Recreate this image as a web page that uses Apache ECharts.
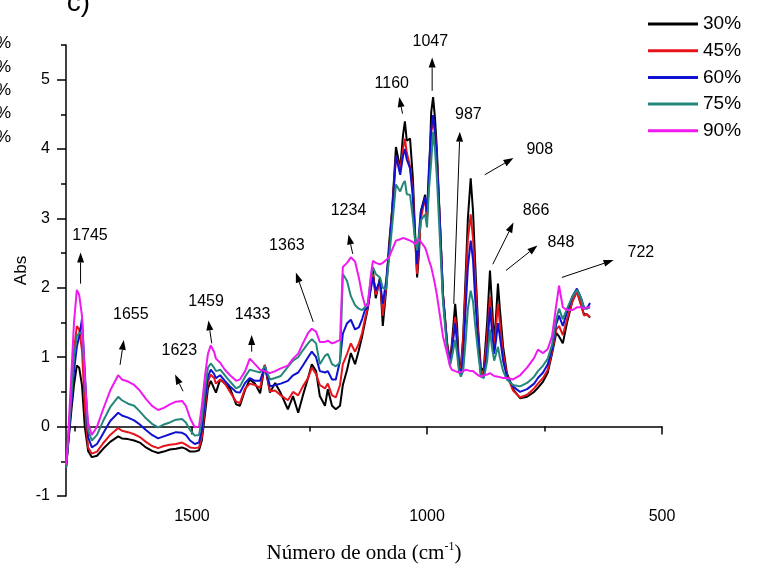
<!DOCTYPE html>
<html>
<head>
<meta charset="utf-8">
<script src="https://cdn.jsdelivr.net/npm/echarts@6/dist/echarts.min.js"></script>
<style>
  html, body { margin: 0; padding: 0; background: #fff; }
  #chart { width: 762px; height: 569px; }
</style>
</head>
<body>
<div id="chart"></div>
<script>
// FTIR absorbance spectra for five concentrations
const wavenumber = [
  1768, 1764, 1757, 1751, 1745, 1740, 1734, 1728, 1721, 1713,
  1702, 1689, 1674, 1657, 1649, 1636, 1623, 1611, 1598, 1585,
  1572, 1560, 1547, 1534, 1521, 1513, 1504, 1494, 1485, 1479,
  1472, 1466, 1460, 1453, 1449, 1440, 1430, 1419, 1406, 1398,
  1387, 1377, 1366, 1355, 1345, 1334, 1323, 1311, 1296, 1285,
  1274, 1264, 1253, 1245, 1236, 1228, 1217, 1211, 1202, 1194,
  1185, 1179, 1170, 1162, 1153, 1145, 1138, 1132, 1126, 1119,
  1115, 1109, 1100, 1094, 1087, 1081, 1074, 1066, 1057, 1051,
  1047, 1043, 1036, 1030, 1026, 1021, 1017, 1013, 1004, 1000,
  996, 991, 987, 983, 979, 972, 966, 957, 951, 947,
  940, 936, 932, 928, 923, 917, 913, 907, 902, 898,
  891, 885, 879, 872, 866, 862, 857, 853, 849, 845,
  838, 830, 817, 802, 787, 772, 764, 753, 743, 734,
  725, 719, 711, 702, 691, 681, 672, 666, 660, 653
];

const abs30 = [
  -0.6, -0.3, 0.2, 0.6, 0.88, 0.85, 0.6, 0.0, -0.35, -0.44,
  -0.42, -0.32, -0.22, -0.14, -0.17, -0.18, -0.2, -0.23, -0.3, -0.35,
  -0.38, -0.36, -0.33, -0.32, -0.3, -0.32, -0.36, -0.36, -0.34, -0.2,
  0.2, 0.55, 0.66, 0.55, 0.49, 0.68, 0.62, 0.55, 0.32, 0.3,
  0.53, 0.68, 0.62, 0.48, 0.89, 0.49, 0.63, 0.48, 0.25, 0.44,
  0.2, 0.45, 0.7, 0.9, 0.8, 0.44, 0.3, 0.54, 0.3, 0.25,
  0.3, 0.6, 0.82, 1.06, 0.9, 1.1, 1.3, 1.5, 1.7, 2.05,
  2.25, 1.85, 2.15, 1.45, 1.96, 2.6, 3.15, 4.03, 3.72, 4.2,
  4.4, 4.12, 4.15, 3.58, 2.9, 2.15, 2.5, 3.1, 3.34, 3.0,
  3.5, 4.53, 4.75, 4.45, 4.0, 2.87, 1.91, 1.2, 0.95, 1.2,
  1.77, 1.45, 0.92, 0.85, 1.3, 2.3, 3.0, 3.58, 3.1, 2.44,
  1.4, 0.8, 0.85, 1.5, 2.25, 1.8, 1.2, 1.6, 2.06, 1.7,
  1.15, 0.77, 0.54, 0.41, 0.43, 0.5, 0.56, 0.65, 0.78, 1.05,
  1.35, 1.3, 1.2, 1.5, 1.8, 1.96, 1.75, 1.62, 1.62, 1.57
];

const abs45 = [
  -0.6, -0.28, 0.4, 1.1, 1.45, 1.4, 1.1, 0.3, -0.3, -0.39,
  -0.36, -0.24, -0.12, -0.02, -0.06, -0.08, -0.11, -0.15, -0.22, -0.28,
  -0.31, -0.28, -0.26, -0.25, -0.23, -0.26, -0.3, -0.31, -0.3, -0.15,
  0.3, 0.65, 0.75, 0.7, 0.62, 0.68, 0.62, 0.5, 0.36, 0.34,
  0.55, 0.62, 0.6, 0.56, 0.89, 0.51, 0.52, 0.45, 0.38, 0.5,
  0.45, 0.58, 0.7, 0.85, 0.76, 0.6, 0.55, 0.62, 0.45, 0.42,
  0.6, 0.9, 1.05, 1.2, 1.08, 1.2, 1.35, 1.55, 1.72, 2.05,
  2.2, 1.9, 2.1, 1.6, 2.0, 2.5, 3.1, 3.9, 3.7, 4.0,
  4.15, 3.95, 3.75, 3.4, 2.8, 2.2, 2.6, 3.0, 3.3, 3.0,
  3.6, 4.25, 4.4, 4.25, 3.9, 2.85, 1.9, 1.18, 0.92, 1.15,
  1.58, 1.3, 0.88, 0.8, 1.25, 2.1, 2.7, 3.06, 2.7, 2.2,
  1.3, 0.75, 0.8, 1.3, 1.87, 1.55, 1.1, 1.45, 1.77, 1.5,
  1.05, 0.75, 0.52, 0.42, 0.46, 0.55, 0.62, 0.7, 0.82, 1.08,
  1.4, 1.45, 1.32, 1.55, 1.8, 1.94, 1.75, 1.6, 1.62, 1.58
];

const abs60 = [
  -0.6, -0.28, 0.3, 0.8, 1.15, 1.3, 1.55, 0.8, -0.15, -0.3,
  -0.25, -0.1, 0.08, 0.2, 0.16, 0.13, 0.09, 0.03, -0.05, -0.12,
  -0.17, -0.14, -0.11, -0.08, -0.09, -0.12, -0.2, -0.25, -0.23, -0.05,
  0.4, 0.72, 0.82, 0.76, 0.7, 0.74, 0.66, 0.58, 0.5, 0.49,
  0.63, 0.7, 0.66, 0.66, 0.87, 0.58, 0.6, 0.62, 0.66, 0.74,
  0.78, 0.88, 1.0, 1.08, 1.0, 0.8, 0.78, 0.8, 0.68, 0.68,
  0.95, 1.34, 1.49, 1.54, 1.4, 1.43, 1.55, 1.68, 1.72, 2.0,
  2.15, 1.96, 2.1, 1.77, 2.1, 2.5, 3.1, 3.9, 3.63, 3.9,
  4.0, 3.85, 3.72, 3.3, 2.8, 2.34, 2.8, 3.1, 3.3, 3.1,
  3.7, 4.29, 4.49, 4.25, 3.85, 2.87, 1.9, 1.15, 0.9, 1.1,
  1.49, 1.2, 0.85, 0.75, 1.0, 1.8, 2.3, 2.68, 2.4, 1.9,
  1.2, 0.72, 0.75, 1.1, 1.72, 1.4, 1.05, 1.25, 1.49, 1.3,
  0.95, 0.72, 0.58, 0.5, 0.54, 0.62, 0.7, 0.78, 0.9, 1.12,
  1.48, 1.6, 1.45, 1.65, 1.87, 1.99, 1.85, 1.72, 1.7, 1.78
];

const abs75 = [
  -0.6, -0.25, 0.4, 1.0, 1.3, 1.35, 1.35, 0.7, -0.05, -0.2,
  -0.12, 0.08, 0.28, 0.43, 0.38, 0.33, 0.3, 0.22, 0.12, 0.04,
  -0.01, 0.03, 0.06, 0.1, 0.11, 0.06, -0.05, -0.13, -0.12, 0.1,
  0.55, 0.85, 0.91, 0.85, 0.8, 0.82, 0.74, 0.65, 0.55, 0.58,
  0.72, 0.82, 0.8, 0.78, 0.87, 0.68, 0.7, 0.73, 0.86, 0.95,
  1.0, 1.1, 1.2, 1.26, 1.2, 0.9, 1.02, 1.05, 0.9, 0.87,
  0.92, 2.2, 2.1, 1.88, 1.75, 1.7, 1.68, 1.72, 1.78, 2.15,
  2.3, 2.2, 2.15, 2.0, 1.98, 2.4, 2.9, 3.49, 3.39, 3.5,
  3.54, 3.35, 3.34, 3.0, 2.72, 2.54, 2.75, 2.97, 3.06, 2.87,
  3.4, 3.82, 4.25, 4.0, 3.6, 2.63, 1.8, 1.1, 0.88, 1.0,
  1.25, 1.05, 0.8, 0.72, 0.8, 1.3, 1.7, 1.96, 1.8, 1.5,
  1.05, 0.72, 0.7, 0.95, 1.4, 1.15, 0.95, 1.05, 1.15, 1.0,
  0.8, 0.68, 0.6, 0.58, 0.63, 0.72, 0.8, 0.88, 0.98, 1.18,
  1.55, 1.7, 1.55, 1.7, 1.87, 1.97, 1.85, 1.7, 1.7, 1.72
];

const abs90 = [
  -0.55, -0.2, 0.7, 1.5, 1.97, 1.9, 1.6, 0.7, 0.05, -0.12,
  0.0, 0.25, 0.52, 0.74, 0.68, 0.65, 0.6, 0.52, 0.4, 0.3,
  0.24, 0.27, 0.32, 0.36, 0.37, 0.3, 0.12, -0.01, 0.0, 0.3,
  0.75, 1.05, 1.17, 1.08, 0.98, 0.92, 0.82, 0.74, 0.66, 0.68,
  0.8, 0.98, 0.9, 0.82, 0.8, 0.77, 0.8, 0.84, 0.88, 0.98,
  1.05, 1.2, 1.35, 1.41, 1.37, 1.22, 1.22, 1.24, 1.2, 1.22,
  1.25, 2.3, 2.36, 2.44, 2.38, 2.15, 1.9, 1.75, 1.74, 2.2,
  2.39, 2.36, 2.34, 2.36, 2.4, 2.44, 2.55, 2.68, 2.7, 2.72,
  2.73, 2.7, 2.68, 2.66, 2.63, 2.66, 2.7, 2.72, 2.58, 2.5,
  2.4, 2.3, 2.18, 2.05, 1.9, 1.58, 1.3, 1.05, 0.87, 0.82,
  0.8, 0.78, 0.78, 0.77, 0.8, 0.82, 0.8, 0.8, 0.8, 0.78,
  0.74, 0.72, 0.74, 0.75, 0.77, 0.75, 0.73, 0.72, 0.72, 0.72,
  0.7, 0.7, 0.68, 0.74, 0.85, 0.99, 1.11, 1.06, 1.12, 1.3,
  1.75, 2.03, 1.72, 1.68, 1.68, 1.72, 1.72, 1.7, 1.72, 1.72
];

const seriesNames = ['30%', '45%', '60%', '75%', '90%'];
const seriesValues = [abs30, abs45, abs60, abs75, abs90];
const seriesColors = ['#000000', '#e8141b', '#1010d0', '#23877a', '#f019f0'];

// Axis ticks and labels
const xMajorTicks = [500, 1000, 1500];
const xMinorTicks = [750, 1250, 1750];
const yMajorTicks = [-1, 0, 1, 2, 3, 4, 5];
const yMinorTicks = [-0.5, 0.5, 1.5, 2.5, 3.5, 4.5, 5.5];

// Band annotations: text, text anchor, arrow tail, arrow head (wavenumber, Abs)
const bandLabels = ['1745', '1655', '1623', '1459', '1433', '1363', '1234', '1160', '1047', '987', '908', '866', '848', '722'];
const bandTextAt = [[1717, 2.75], [1630, 1.62], [1527, 1.10], [1470, 1.80], [1371, 1.61], [1298, 2.61], [1167, 3.11], [1075, 4.95], [993, 5.55], [912, 4.50], [760, 3.99], [768, 3.11], [715, 2.65], [545, 2.51]];
const bandArrowFrom = [[1737, 2.06], [1653, 0.89], [1519, 0.51], [1458, 1.20], [1373, 1.08], [1242, 1.51], [1158, 2.49], [1052, 4.51], [989, 4.84], [943, 1.77], [877, 3.63], [860, 2.34], [832, 2.25], [713, 2.15]];
const bandArrowTo = [[1737, 2.51], [1645, 1.25], [1536, 0.75], [1465, 1.53], [1373, 1.32], [1279, 2.22], [1167, 2.77], [1059, 4.75], [989, 5.32], [930, 4.25], [816, 3.87], [816, 2.94], [765, 2.61], [603, 2.40]];

const SANS = '"Liberation Sans", Arial, Helvetica, sans-serif';
const SERIF = '"Liberation Serif", "Times New Roman", serif';

const chart = echarts.init(document.getElementById('chart'), null, { renderer: 'canvas' });

const axisLineStyle = { color: '#000', width: 1.5 };
const plainNumber = (v) => String(v);

const option = {
  animation: false,
  backgroundColor: '#fff',
  grid: { left: 66, top: 45, width: 596, height: 456, containLabel: false },
  legend: {
    orient: 'vertical',
    left: 643,
    top: 9,
    icon: 'rect',
    itemWidth: 50,
    itemHeight: 3,
    itemGap: 6.7,
    data: seriesNames,
    textStyle: { fontFamily: SANS, fontSize: 19, color: '#000', lineHeight: 20 },
    selectedMode: false
  },
  xAxis: [
    {
      type: 'value', gridIndex: 0, min: 500, max: 1768, inverse: true, position: 'bottom',
      axisLine: { show: true, lineStyle: axisLineStyle },
      axisTick: { show: true, customValues: xMajorTicks, length: 8, lineStyle: axisLineStyle },
      axisLabel: { customValues: xMajorTicks, formatter: plainNumber, fontFamily: SANS, fontSize: 16, color: '#000', margin: 13 },
      splitLine: { show: false },
      name: '{a|Número de onda (cm}{s|-1}{a|)}',
      nameLocation: 'middle',
      nameGap: 45,
      nameMoveOverlap: false,
      nameTextStyle: {
        rich: {
          a: { fontFamily: SERIF, fontSize: 21, color: '#000', verticalAlign: 'bottom', lineHeight: 23 },
          s: { fontFamily: SERIF, fontSize: 12, color: '#000', verticalAlign: 'top', lineHeight: 23 }
        }
      }
    },
    {
      type: 'value', gridIndex: 0, min: 500, max: 1768, inverse: true, position: 'bottom',
      axisLine: { show: false },
      axisTick: { show: true, customValues: xMinorTicks, length: 5, lineStyle: axisLineStyle },
      axisLabel: { show: false },
      splitLine: { show: false }
    }
  ],
  yAxis: [
    {
      type: 'value', gridIndex: 0, min: -1, max: 5.5, position: 'left',
      axisLine: { show: true, lineStyle: axisLineStyle },
      axisTick: { show: true, customValues: yMajorTicks, length: 9, lineStyle: axisLineStyle },
      axisLabel: { customValues: yMajorTicks, formatter: plainNumber, fontFamily: SANS, fontSize: 16, color: '#000', margin: 16 },
      splitLine: { show: false },
      name: 'Abs',
      nameLocation: 'middle',
      nameGap: 36,
      nameMoveOverlap: false,
      nameRotate: 90,
      nameTextStyle: { fontFamily: SANS, fontSize: 17, color: '#000' }
    },
    {
      type: 'value', gridIndex: 0, min: -1, max: 5.5, position: 'left',
      axisLine: { show: false },
      axisTick: { show: true, customValues: yMinorTicks, length: 5, lineStyle: axisLineStyle },
      axisLabel: { show: false },
      splitLine: { show: false }
    }
  ],
  series: seriesNames.map((name, k) => ({
    name,
    type: 'line',
    xAxisIndex: 0,
    yAxisIndex: 0,
    showSymbol: false,
    symbol: 'none',
    color: seriesColors[k],
    lineStyle: { width: 2, color: seriesColors[k] },
    z: 2 + k,
    data: wavenumber.map((w, i) => [w, seriesValues[k][i]])
  }))
};

chart.setOption(option);

// Band labels and arrows placed through the axis scales
const toPx = (p) => chart.convertToPixel({ xAxisIndex: 0, yAxisIndex: 0 }, p);
const graphics = [];
bandLabels.forEach((txt, i) => {
  const t = toPx(bandTextAt[i]);
  const a = toPx(bandArrowFrom[i]);
  const b = toPx(bandArrowTo[i]);
  const dx = b[0] - a[0], dy = b[1] - a[1];
  const len = Math.sqrt(dx * dx + dy * dy);
  const ux = dx / len, uy = dy / len;
  const headLen = 10, headHalf = 3.5;
  const bx = b[0] - ux * headLen, by = b[1] - uy * headLen;
  graphics.push({
    type: 'line', z: 20, silent: true,
    shape: { x1: a[0], y1: a[1], x2: bx, y2: by },
    style: { stroke: '#000', lineWidth: 1 }
  });
  graphics.push({
    type: 'polygon', z: 20, silent: true,
    shape: { points: [[b[0], b[1]], [bx - uy * headHalf, by + ux * headHalf], [bx + uy * headHalf, by - ux * headHalf]] },
    style: { fill: '#000' }
  });
  graphics.push({
    type: 'text', z: 20, silent: true,
    x: t[0], y: t[1],
    style: { text: txt, fontFamily: SANS, fontSize: 16, fill: '#000', align: 'center', verticalAlign: 'middle' }
  });
});

// Panel letter and neighbouring legend remnants at the page edge
graphics.push({
  type: 'text', z: 20, silent: true, x: 90, y: 17,
  style: { text: 'c)', fontFamily: SANS, fontSize: 28, fill: '#000', align: 'right', verticalAlign: 'bottom' }
});
[43, 67, 90, 113, 137].forEach((y) => {
  graphics.push({
    type: 'text', z: 20, silent: true, x: 11, y: y,
    style: { text: '%', fontFamily: SANS, fontSize: 17, fill: '#000', align: 'right', verticalAlign: 'middle' }
  });
});

chart.setOption({ graphic: graphics });
</script>
</body>
</html>
